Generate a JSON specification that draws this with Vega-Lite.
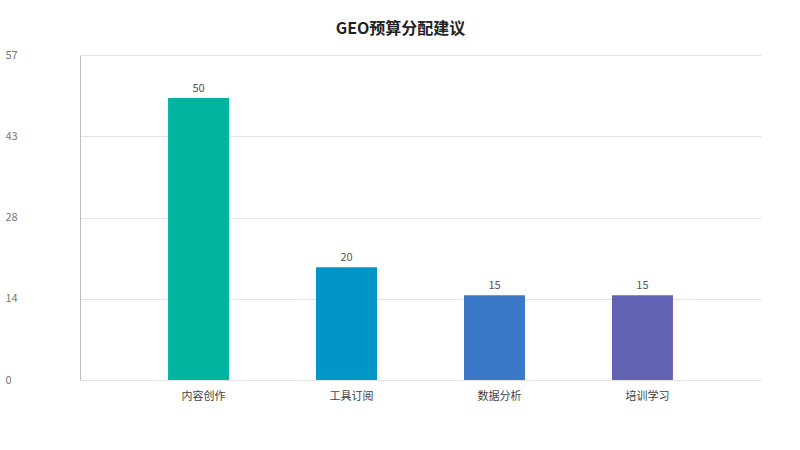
{
  "$schema": "https://vega.github.io/schema/vega-lite/v6.json",
  "width": 681,
  "height": 325,
  "autosize": {"type": "none"},
  "padding": {"left": 80, "top": 55, "right": 39, "bottom": 70},
  "background": "white",
  "title": {
    "text": "GEO预算分配建议",
    "font": "Noto Sans CJK SC",
    "fontSize": 16,
    "fontWeight": "bold",
    "color": "#222222",
    "anchor": "middle",
    "dx": -20,
    "offset": -4,
    "baseline": "bottom"
  },
  "data": {
    "values": [
      {"category": "内容创作", "value": 50},
      {"category": "工具订阅", "value": 20},
      {"category": "数据分析", "value": 15},
      {"category": "培训学习", "value": 15}
    ]
  },
  "encoding": {
    "x": {
      "field": "category",
      "type": "nominal",
      "sort": null,
      "scale": {"paddingInner": 0.588, "paddingOuter": 0.595},
      "axis": {
        "title": null,
        "domain": false,
        "ticks": false,
        "labelAngle": 0,
        "labelFont": "Noto Sans CJK SC",
        "labelFontSize": 11,
        "labelColor": "#444444",
        "labelPadding": 10,
        "labelOffset": 5
      }
    },
    "y": {
      "field": "value",
      "type": "quantitative",
      "scale": {"domain": [0, 57.6], "nice": false},
      "axis": {
        "title": null,
        "values": [0, 14.4, 28.8, 43.2, 57.6],
        "labelExpr": "floor(datum.value)",
        "ticks": false,
        "tickSize": 0,
        "domain": true,
        "domainColor": "#bbbbbb",
        "grid": true,
        "gridColor": "#e3e3e3",
        "labelAlign": "left",
        "labelBaseline": "middle",
        "labelPadding": 75,
        "labelFont": "Noto Sans CJK SC",
        "labelFontSize": 11,
        "labelColor": "#777777"
      }
    }
  },
  "layer": [
    {
      "mark": {"type": "bar"},
      "encoding": {
        "color": {
          "field": "category",
          "type": "nominal",
          "sort": null,
          "scale": {"domain": ["内容创作", "工具订阅", "数据分析", "培训学习"], "range": ["#00b4a0", "#0096c8", "#3b78c8", "#6363b4"]},
          "legend": null
        }
      }
    },
    {
      "mark": {"type": "text", "baseline": "bottom", "dy": -4, "font": "Noto Sans CJK SC", "fontSize": 11, "color": "#555555"},
      "encoding": {"text": {"field": "value", "type": "quantitative"}}
    }
  ],
  "config": {"view": {"stroke": null}}
}
